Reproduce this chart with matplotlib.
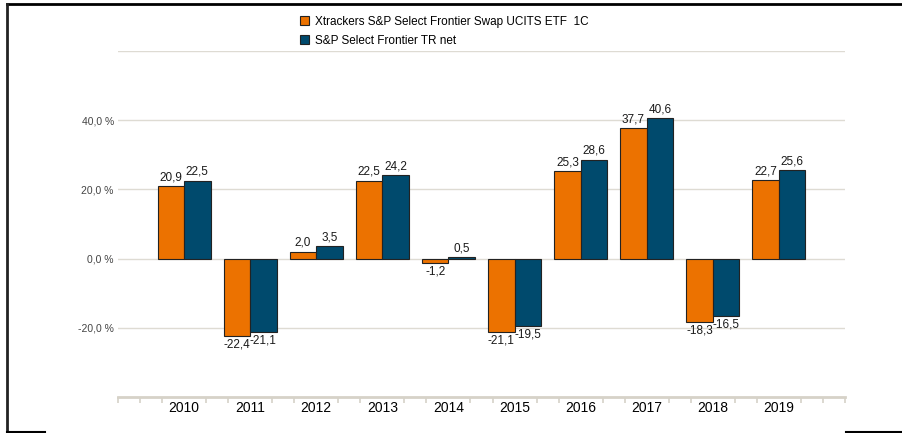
import matplotlib
matplotlib.use("Agg")
import matplotlib.pyplot as plt
from matplotlib.lines import Line2D
import numpy as np

plt.rcParams['font.family'] = ['Liberation Sans', 'DejaVu Sans']

years = ["2010", "2011", "2012", "2013", "2014", "2015", "2016", "2017", "2018", "2019"]
etf = [20.9, -22.4, 2.0, 22.5, -1.2, -21.1, 25.3, 37.7, -18.3, 22.7]
index_tr = [22.5, -21.1, 3.5, 24.2, 0.5, -19.5, 28.6, 40.6, -16.5, 25.6]
series_names = ["Xtrackers S&P Select Frontier Swap UCITS ETF  1C", "S&P Select Frontier TR net"]
yticks = [-20, 0, 20, 40]
ytick_labels = ["-20,0 %", "0,0 %", "20,0 %", "40,0 %"]

orange = "#EC7200"
blue = "#004A6D"
grid_c = "#dedbd3"

W, H = 903, 433
fig = plt.figure(figsize=(W / 100, H / 100), dpi=100)
ax = fig.add_axes([118 / W, 1 - 397 / H, (845 - 118) / W, (397 - 51) / H])

x = np.arange(len(years))
bw = 0.4
b1 = ax.bar(x - bw / 2, etf, bw, color=orange, edgecolor="#222222", linewidth=0.8, zorder=3)
b2 = ax.bar(x + bw / 2, index_tr, bw, color=blue, edgecolor="#222222", linewidth=0.8, zorder=3)

def fmt(v):
    return f"{v:.1f}".replace(".", ",")

for bars, vals in ((b1, etf), (b2, index_tr)):
    for rect, v in zip(bars, vals):
        cx = rect.get_x() + rect.get_width() / 2
        if v >= 0:
            ax.annotate(fmt(v), (cx, v), xytext=(0, 2), textcoords="offset points",
                        ha="center", va="bottom", fontsize=8.5, color="#1a1a1a")
        else:
            ax.annotate(fmt(v), (cx, v), xytext=(0, -2), textcoords="offset points",
                        ha="center", va="top", fontsize=8.5, color="#1a1a1a")

ax.set_xlim(-1, len(years))
ax.set_ylim(-40, 60)

# gridlines
for yv in yticks + [60]:
    ax.axhline(yv, color=grid_c, linewidth=1.0, zorder=1)

ax.set_yticks(yticks)
ax.set_yticklabels(ytick_labels, fontsize=7.5, color="#444444")
ax.tick_params(axis="y", length=0, pad=3)

ax.set_xticks(x)
ax.set_xticklabels(years, fontsize=7.5, color="#222222")
ax.tick_params(axis="x", length=0, pad=3)
minor = [i + f for i in range(-1, len(years)) for f in (0, 1 / 3, 2 / 3)] + [len(years)]
minor = [m for m in minor if abs(m - round(m)) > 1e-6 or round(m) in (-1, len(years))]
ax.set_xticks(minor, minor=True)
ax.tick_params(axis="x", which="minor", length=4, color="#d6d2c8", width=1.2)

for s in ("top", "right", "left"):
    ax.spines[s].set_visible(False)
ax.spines["bottom"].set_color("#d6d2c8")
ax.spines["bottom"].set_linewidth(2)
ax.spines["bottom"].set_position(("data", -40))

# legend
leg = fig.legend([b1, b2], series_names, loc="upper left", bbox_to_anchor=(289 / W, 1 - 5 / H),
                 frameon=False, fontsize=8.5, handlelength=0.8, handleheight=0.8,
                 handletextpad=0.5, labelspacing=0.6)

# outer frame lines
lw = 2
fig.add_artist(Line2D([7 / W, 1], [1 - 4 / H, 1 - 4 / H], color="black", linewidth=lw))
fig.add_artist(Line2D([7 / W, 7 / W], [1 - 4 / H, 1 - 432 / H], color="#222222", linewidth=lw))
fig.add_artist(Line2D([7 / W, 45 / W], [1 - 432 / H, 1 - 432 / H], color="black", linewidth=1.5))
fig.add_artist(Line2D([846 / W, 1], [1 - 432 / H, 1 - 432 / H], color="black", linewidth=1.5))

fig.savefig("out.png", dpi=100)
